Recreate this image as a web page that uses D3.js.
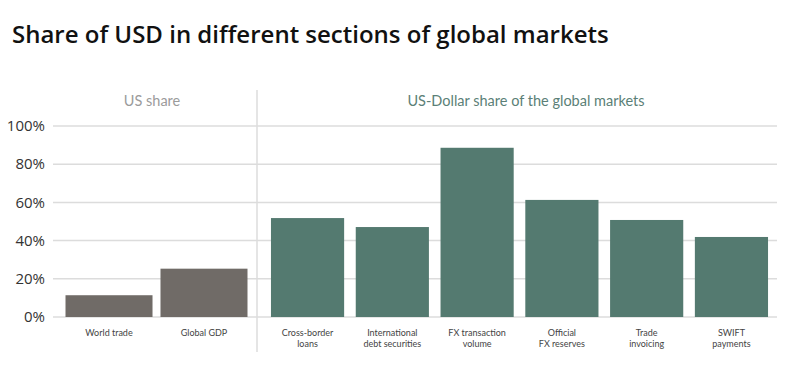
<!DOCTYPE html>
<html>
<head>
<meta charset="utf-8">
<script src="https://cdn.jsdelivr.net/npm/d3@7"></script>
<style>
  body { margin: 0; background: #fff; }
  .title { font-family: "Open Sans", sans-serif; font-weight: 600; font-size: 24px; fill: #111; }
  .tick-label { font-family: "Open Sans", sans-serif; font-size: 15px; fill: #333; }
  .cat-label { font-family: Lato, sans-serif; font-size: 9px; fill: #444; }
  .panel-head { font-family: Lato, sans-serif; font-size: 14.5px; }
</style>
</head>
<body>
<svg id="chart" width="800" height="388"></svg>
<script>
var width = 800, height = 388;

// data
var usCategories = ["World trade", "Global GDP"];
var usValues = [11.4, 25.3];
var usdCategories = ["Cross-border\nloans", "International\ndebt securities", "FX transaction\nvolume",
                     "Official\nFX reserves", "Trade\ninvoicing", "SWIFT\npayments"];
var usdValues = [51.8, 47.1, 88.6, 61.3, 50.8, 41.9];
var yTicks = [0, 20, 40, 60, 80, 100];

var svg = d3.select("#chart");

svg.append("text")
    .attr("class", "title")
    .attr("x", 12)
    .attr("y", 43)
    .text("Share of USD in different sections of global markets");

var y = d3.scaleLinear()
    .domain([0, 100])
    .range([317, 126]);

var xLeft = d3.scaleBand()
    .domain(usCategories)
    .range([58, 255])
    .paddingInner(0.084)
    .paddingOuter(0.079);

var xRight = d3.scaleBand()
    .domain(usdCategories)
    .range([263, 776])
    .paddingInner(0.137)
    .paddingOuter(0.094);

// gridlines
svg.append("g")
  .selectAll("line")
  .data(yTicks)
  .enter().append("line")
    .attr("x1", 53)
    .attr("x2", 777)
    .attr("y1", function(d) { return y(d); })
    .attr("y2", function(d) { return y(d); })
    .attr("stroke", "#dcdcdc")
    .attr("stroke-width", 1.5);

// divider between the two panels
svg.append("line")
    .attr("x1", 257).attr("x2", 257)
    .attr("y1", 90).attr("y2", 352)
    .attr("stroke", "#dcdcdc")
    .attr("stroke-width", 1.5);

// y axis labels
svg.append("g")
  .selectAll("text")
  .data(yTicks)
  .enter().append("text")
    .attr("class", "tick-label")
    .attr("x", 45)
    .attr("y", function(d) { return y(d); })
    .attr("dy", "0.35em")
    .attr("text-anchor", "end")
    .text(function(d) { return d + "%"; });

// panel headers
svg.append("text")
    .attr("class", "panel-head")
    .attr("x", 152)
    .attr("y", 106)
    .attr("text-anchor", "middle")
    .attr("fill", "#9b9b9b")
    .text("US share");

svg.append("text")
    .attr("class", "panel-head")
    .attr("x", 526)
    .attr("y", 106)
    .attr("text-anchor", "middle")
    .attr("fill", "#5b7f77")
    .text("US-Dollar share of the global markets");

// bars
svg.append("g")
  .selectAll("rect")
  .data(usCategories)
  .enter().append("rect")
    .attr("x", function(d) { return xLeft(d); })
    .attr("width", xLeft.bandwidth())
    .attr("y", function(d, i) { return y(usValues[i]); })
    .attr("height", function(d, i) { return y(0) - y(usValues[i]); })
    .attr("fill", "#706b67");

svg.append("g")
  .selectAll("rect")
  .data(usdCategories)
  .enter().append("rect")
    .attr("x", function(d) { return xRight(d); })
    .attr("width", xRight.bandwidth())
    .attr("y", function(d, i) { return y(usdValues[i]); })
    .attr("height", function(d, i) { return y(0) - y(usdValues[i]); })
    .attr("fill", "#547a70");

// category labels
function catLabels(scale, cats) {
  var g = svg.append("g");
  cats.forEach(function(c) {
    var lines = c.split("\n");
    var t = g.append("text")
        .attr("class", "cat-label")
        .attr("text-anchor", "middle")
        .attr("x", scale(c) + scale.bandwidth() / 2)
        .attr("y", 336);
    lines.forEach(function(l, i) {
      t.append("tspan")
        .attr("x", scale(c) + scale.bandwidth() / 2)
        .attr("dy", i == 0 ? 0 : 11)
        .text(l);
    });
  });
}
catLabels(xLeft, usCategories);
catLabels(xRight, usdCategories);
</script>
</body>
</html>
